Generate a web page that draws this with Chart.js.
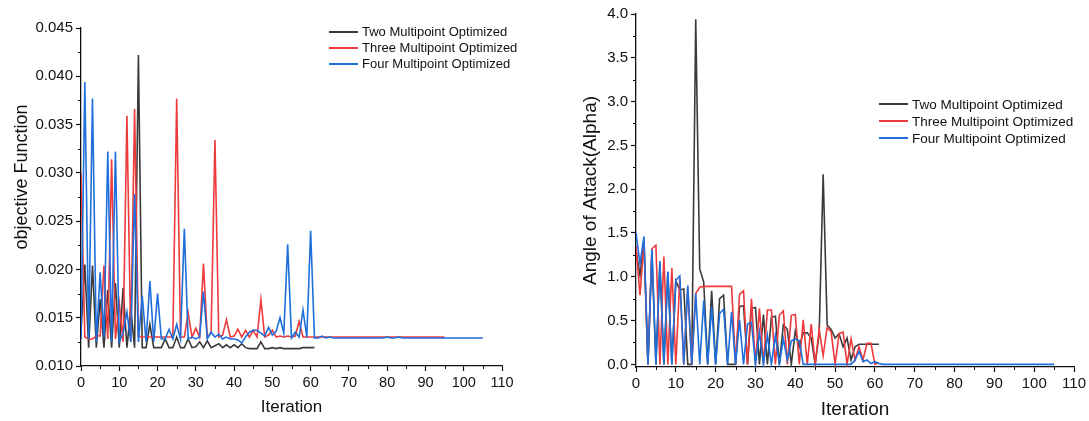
<!DOCTYPE html>
<html>
<head>
<meta charset="utf-8">
<script src="https://cdn.jsdelivr.net/npm/chart.js@4/dist/chart.umd.min.js"></script>
<style>
  body { margin: 0; background: #fff; width: 1089px; height: 421px; overflow: hidden; position: relative; font-family: Arial, "Liberation Sans", sans-serif; }
  canvas { position: absolute; top: 0; }
  #leftChart { left: 0; }
  #rightChart { left: 540px; }
  .legend { position: absolute; font-size: 13px; color: #111; }
  .legend div { height: 16px; line-height: 16px; white-space: nowrap; }
  .legend span.ln { display: inline-block; width: 29px; height: 2px; vertical-align: middle; margin-right: 4px; position: relative; top: -1px; }
</style>
</head>
<body>
<canvas id="leftChart" width="540" height="421"></canvas>
<canvas id="rightChart" width="549" height="421"></canvas>
<div class="legend" id="legendLeft" style="left:329px; top:24px;"></div>
<div class="legend" id="legendRight" style="left:879px; top:96px; font-size:13.5px;"></div>
<script>
// series names and colours
const seriesNames = ['Two Multipoint Optimized', 'Three Multipoint Optimized', 'Four Multipoint Optimized'];
const seriesColors = ['#3a3a3a', '#ee3a3c', '#1e6fdc'];

// axis ticks
const xTicks = [0, 10, 20, 30, 40, 50, 60, 70, 80, 90, 100, 110];
const xMinor = [5, 15, 25, 35, 45, 55, 65, 75, 85, 95, 105];
const leftYTicks = [0.010, 0.015, 0.020, 0.025, 0.030, 0.035, 0.040, 0.045];
const leftYMinor = [0.0125, 0.0175, 0.0225, 0.0275, 0.0325, 0.0375, 0.0425];
const rightYTicks = [0.0, 0.5, 1.0, 1.5, 2.0, 2.5, 3.0, 3.5, 4.0];
const rightYMinor = [0.25, 0.75, 1.25, 1.75, 2.25, 2.75, 3.25, 3.75];

// objective function per iteration (index = iteration)
const objTwo = [
  0.0135, 0.0205, 0.0119, 0.0204, 0.0119, 0.0169, 0.0119, 0.0179, 0.0119, 0.0186,
  0.0119, 0.0181, 0.0119, 0.0160, 0.0119, 0.0422, 0.0119, 0.0119, 0.0143, 0.0119,
  0.0119, 0.0119, 0.0128, 0.0119, 0.0119, 0.0130, 0.0119, 0.0119, 0.0128, 0.0119,
  0.0120, 0.0125, 0.0119, 0.0126, 0.0119, 0.0121, 0.0123, 0.0119, 0.0122, 0.0119,
  0.0122, 0.0119, 0.0123, 0.0119, 0.0118, 0.0118, 0.0118, 0.0125, 0.0118, 0.0118,
  0.0119, 0.0118, 0.0119, 0.0118, 0.0118, 0.0118, 0.0118, 0.0118, 0.0119, 0.0119,
  0.0119, 0.0119
];
const objThree = [
  0.0300, 0.0130, 0.0128, 0.0128, 0.0131, 0.0131, 0.0204, 0.0128, 0.0314, 0.0128,
  0.0165, 0.0125, 0.0359, 0.0125, 0.0366, 0.0131, 0.0130, 0.0130, 0.0130, 0.0130,
  0.0130, 0.0130, 0.0130, 0.0130, 0.0130, 0.0377, 0.0130, 0.0130, 0.0155, 0.0130,
  0.0139, 0.0130, 0.0206, 0.0130, 0.0135, 0.0334, 0.0130, 0.0132, 0.0148, 0.0130,
  0.0131, 0.0138, 0.0130, 0.0137, 0.0130, 0.0137, 0.0130, 0.0169, 0.0130, 0.0132,
  0.0137, 0.0130, 0.0131, 0.0130, 0.0131, 0.0130, 0.0131, 0.0146, 0.0130, 0.0130,
  0.0130, 0.0130, 0.0130, 0.0130, 0.0130, 0.0130, 0.0130, 0.0130, 0.0130, 0.0130,
  0.0130, 0.0130, 0.0130, 0.0130, 0.0130, 0.0130, 0.0130, 0.0130, 0.0130, 0.0130,
  0.0130, 0.0130, 0.0130, 0.0130, 0.0130, 0.0130, 0.0130, 0.0130, 0.0130, 0.0130,
  0.0130, 0.0130, 0.0130, 0.0130, 0.0130, 0.0130
];
const objFour = [
  0.0128, 0.0394, 0.0128, 0.0377, 0.0125, 0.0197, 0.0130, 0.0322, 0.0125, 0.0322,
  0.0125, 0.0134, 0.0156, 0.0125, 0.0278, 0.0125, 0.0173, 0.0125, 0.0188, 0.0125,
  0.0175, 0.0128, 0.0128, 0.0138, 0.0128, 0.0143, 0.0128, 0.0242, 0.0128, 0.0130,
  0.0128, 0.0130, 0.0177, 0.0128, 0.0135, 0.0130, 0.0133, 0.0128, 0.0130, 0.0128,
  0.0128, 0.0127, 0.0124, 0.0130, 0.0135, 0.0137, 0.0137, 0.0134, 0.0131, 0.0140,
  0.0132, 0.0136, 0.0150, 0.0134, 0.0226, 0.0129, 0.0135, 0.0130, 0.0158, 0.0130,
  0.0240, 0.0129, 0.0129, 0.0131, 0.0129, 0.0130, 0.0129, 0.0129, 0.0129, 0.0129,
  0.0129, 0.0129, 0.0129, 0.0129, 0.0129, 0.0129, 0.0129, 0.0129, 0.0129, 0.0129,
  0.0130, 0.0129, 0.0129, 0.0130, 0.0129, 0.0129, 0.0129, 0.0129, 0.0129, 0.0129,
  0.0129, 0.0129, 0.0129, 0.0129, 0.0129, 0.0129, 0.0129, 0.0129, 0.0129, 0.0129,
  0.0129, 0.0129, 0.0129, 0.0129, 0.0129, 0.0129
];

// angle of attack per iteration
const alphaTwo = [
  1.30, 1.02, 1.40, 0.00, 1.28, 0.00, 1.15, 0.00, 1.05, 0.00,
  0.95, 0.85, 0.86, 0.00, 0.00, 3.94, 1.09, 0.94, 0.00, 0.84,
  0.00, 0.75, 0.79, 0.00, 0.00, 0.00, 0.66, 0.67, 0.00, 0.64,
  0.65, 0.00, 0.57, 0.00, 0.54, 0.55, 0.00, 0.45, 0.40, 0.00,
  0.38, 0.20, 0.36, 0.36, 0.30, 0.00, 0.35, 2.17, 0.45, 0.40,
  0.30, 0.35, 0.20, 0.30, 0.05, 0.20, 0.23, 0.23, 0.23, 0.23,
  0.23, 0.23
];
const alphaThree = [
  1.35, 0.79, 1.40, 0.00, 1.32, 1.36, 0.00, 1.23, 0.00, 1.10,
  0.00, 0.98, 0.00, 0.88, 0.00, 0.81, 0.88, 0.89, 0.89, 0.89,
  0.89, 0.89, 0.89, 0.89, 0.89, 0.00, 0.80, 0.84, 0.00, 0.75,
  0.00, 0.64, 0.00, 0.62, 0.62, 0.00, 0.56, 0.61, 0.00, 0.56,
  0.57, 0.00, 0.51, 0.00, 0.46, 0.00, 0.40, 0.10, 0.42, 0.37,
  0.00, 0.35, 0.37, 0.00, 0.29, 0.05, 0.20, 0.05, 0.24, 0.24,
  0.00, 0.02
];
const alphaFour = [
  1.50, 1.15, 1.46, 0.00, 1.31, 0.00, 1.18, 0.00, 1.06, 0.00,
  0.96, 1.01, 0.00, 0.90, 0.00, 0.81, 0.00, 0.73, 0.00, 0.66,
  0.00, 0.58, 0.63, 0.00, 0.60, 0.00, 0.51, 0.00, 0.46, 0.48,
  0.00, 0.37, 0.00, 0.33, 0.00, 0.33, 0.00, 0.29, 0.05, 0.27,
  0.29, 0.27, 0.00, 0.00, 0.00, 0.00, 0.00, 0.00, 0.00, 0.00,
  0.00, 0.00, 0.00, 0.00, 0.00, 0.05, 0.15, 0.03, 0.05, 0.01,
  0.03, 0.01, 0.00, 0.00, 0.00, 0.00, 0.00, 0.00, 0.00, 0.00,
  0.00, 0.00, 0.00, 0.00, 0.00, 0.00, 0.00, 0.00, 0.00, 0.00,
  0.00, 0.00, 0.00, 0.00, 0.00, 0.00, 0.00, 0.00, 0.00, 0.00,
  0.00, 0.00, 0.00, 0.00, 0.00, 0.00, 0.00, 0.00, 0.00, 0.00,
  0.00, 0.00, 0.00, 0.00, 0.00, 0.00
];

const FONT = 'Arial, "Liberation Sans", sans-serif';

// short minor tick marks on the outside of the axes
const minorTicks = {
  id: 'minorTicks',
  afterDraw(chart, args, opts) {
    const ctx = chart.ctx;
    const xs = chart.scales.x, ys = chart.scales.y;
    ctx.save();
    ctx.strokeStyle = '#111';
    ctx.lineWidth = 1;
    ctx.beginPath();
    opts.x.forEach(v => {
      const px = Math.round(xs.getPixelForValue(v)) + 0.5;
      ctx.moveTo(px, xs.top);
      ctx.lineTo(px, xs.top + 3);
    });
    opts.y.forEach(v => {
      const py = Math.round(ys.getPixelForValue(v)) + 0.5;
      ctx.moveTo(ys.right - 3, py);
      ctx.lineTo(ys.right, py);
    });
    ctx.stroke();
    ctx.restore();
  }
};

function toPoints(arr) {
  return arr.map((v, i) => ({ x: i, y: v }));
}

function makeDatasets(two, three, four) {
  return [two, three, four].map((arr, k) => ({
    label: seriesNames[k],
    data: toPoints(arr),
    borderColor: seriesColors[k],
    borderWidth: 1.6,
    pointRadius: 0,
    fill: false,
    tension: 0,
    order: 3 - k   // Four drawn on top
  }));
}

function makeChart(id, cfg) {
  const ctx = document.getElementById(id).getContext('2d');
  return new Chart(ctx, {
    type: 'line',
    data: { datasets: cfg.datasets },
    plugins: [minorTicks],
    options: {
      responsive: false,
      animation: false,
      layout: { padding: cfg.padding },
      plugins: {
        legend: { display: false },
        tooltip: { enabled: false },
        minorTicks: { x: xMinor, y: cfg.yMinor }
      },
      scales: {
        x: {
          type: 'linear',
          min: 0,
          max: 110,
          afterBuildTicks: s => { s.ticks = xTicks.map(v => ({ value: v })); },
          afterFit: s => { s.height = cfg.xHeight; },
          border: { color: '#111', width: 1.3 },
          grid: { drawOnChartArea: false, tickLength: 5, tickColor: '#111', tickWidth: 1.2 },
          ticks: { color: '#111', font: { family: FONT, size: cfg.tickSize }, padding: 3, maxRotation: 0 },
          title: { display: true, text: 'Iteration', color: '#111', font: { family: FONT, size: cfg.titleSize }, padding: { top: 0, bottom: cfg.xTitlePad } }
        },
        y: {
          type: 'linear',
          min: cfg.yMin,
          max: cfg.yMax,
          afterBuildTicks: s => { s.ticks = cfg.yTicks.map(v => ({ value: v })); },
          afterFit: s => { s.width = cfg.yWidth; },
          border: { color: '#111', width: 1.3 },
          grid: { drawOnChartArea: false, tickLength: 5, tickColor: '#111', tickWidth: 1.2 },
          ticks: { color: '#111', font: { family: FONT, size: cfg.yTickSize }, padding: 3, callback: cfg.yFormat },
          title: { display: true, text: cfg.yTitle, color: '#111', font: { family: FONT, size: cfg.yTitleSize }, padding: { top: cfg.yTitlePad, bottom: 0 } }
        }
      }
    }
  });
}

makeChart('leftChart', {
  datasets: makeDatasets(objTwo, objThree, objFour),
  padding: { top: 28, left: 0, right: 38, bottom: 0 },
  xHeight: 55, yWidth: 81,
  yMin: 0.010, yMax: 0.045,
  yTicks: leftYTicks, yMinor: leftYMinor,
  yFormat: v => v.toFixed(3),
  yTitle: '        objective Function',
  tickSize: 14.5, yTickSize: 15, titleSize: 17, yTitleSize: 18,
  xTitlePad: 3, yTitlePad: 11
});

makeChart('rightChart', {
  datasets: makeDatasets(alphaTwo, alphaThree, alphaFour),
  padding: { top: 14, left: 0, right: 13, bottom: 0 },
  xHeight: 54, yWidth: 96,
  yMin: -0.03, yMax: 4.0,
  yTicks: rightYTicks, yMinor: rightYMinor,
  yFormat: v => v.toFixed(1),
  yTitle: 'Angle of Attack(Alpha)',
  tickSize: 15, yTickSize: 15, titleSize: 19, yTitleSize: 19,
  xTitlePad: 0, yTitlePad: 39
});

// legends drawn as text boxes inside the plot corners
function buildLegend(id) {
  const box = document.getElementById(id);
  seriesNames.forEach((name, k) => {
    const row = document.createElement('div');
    const ln = document.createElement('span');
    ln.className = 'ln';
    ln.style.background = seriesColors[k];
    row.appendChild(ln);
    row.appendChild(document.createTextNode(name));
    box.appendChild(row);
  });
}
buildLegend('legendLeft');
buildLegend('legendRight');
document.getElementById('legendRight').querySelectorAll('div').forEach(d => { d.style.height = '17px'; d.style.lineHeight = '17px'; });
</script>
</body>
</html>
